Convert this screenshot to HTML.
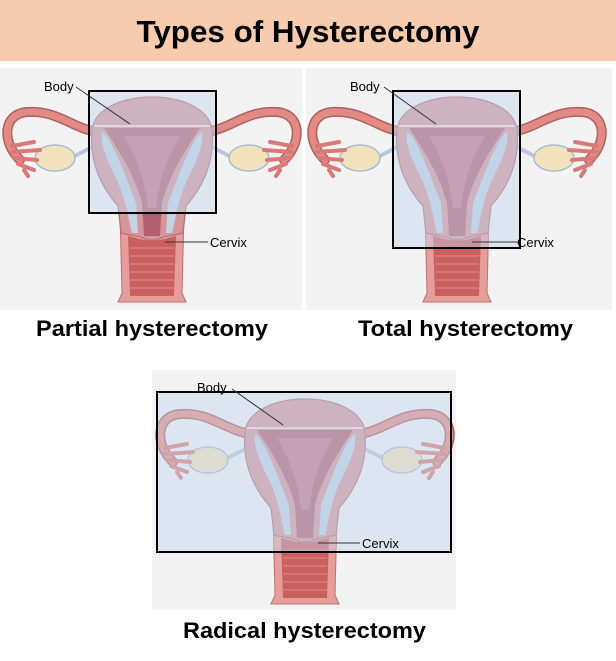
<!DOCTYPE html>
<html><head><meta charset="utf-8"><style>
html,body{margin:0;padding:0;background:#fff;}
svg{display:block;}
text{font-family:"Liberation Sans",sans-serif;}
</style></head><body>
<svg width="616" height="661" viewBox="0 0 616 661" xmlns="http://www.w3.org/2000/svg">
<defs>
<g id="ut">
  <path d="M-55,64 C-80,60 -95,42 -125,44 C-150,46 -150,75 -132,92" fill="none" stroke="#b0605f" stroke-width="10" stroke-linecap="round"/>
  <path d="M-55,64 C-80,60 -95,42 -125,44 C-150,46 -150,75 -132,92" fill="none" stroke="#e38a84" stroke-width="7" stroke-linecap="round"/>
  <path d="M55,64 C80,60 95,42 125,44 C150,46 150,75 132,92" fill="none" stroke="#b0605f" stroke-width="10" stroke-linecap="round"/>
  <path d="M55,64 C80,60 95,42 125,44 C150,46 150,75 132,92" fill="none" stroke="#e38a84" stroke-width="7" stroke-linecap="round"/>
  <path d="M-58,78 L-85,92" stroke="#b8c8dc" stroke-width="4"/>
  <path d="M58,78 L85,92" stroke="#b8c8dc" stroke-width="4"/>
  <ellipse cx="-97" cy="90" rx="20" ry="13" fill="#f2e2bc" stroke="#a9bcd4" stroke-width="1.5"/>
  <ellipse cx="97" cy="90" rx="20" ry="13" fill="#f2e2bc" stroke="#a9bcd4" stroke-width="1.5"/>
  <path d="M-140,78 L-118,74 M-140,84 L-112,82 M-138,90 L-115,92 M-134,96 L-118,102 M-128,102 L-124,108" stroke="#d97a76" stroke-width="4" stroke-linecap="round"/>
  <path d="M140,78 L118,74 M140,84 L112,82 M138,90 L115,92 M134,96 L118,102 M128,102 L124,108" stroke="#d97a76" stroke-width="4" stroke-linecap="round"/>
  <path d="M-32,145 L-30,225 L-34,234 L34,234 L30,225 L32,145Z" fill="#e79e9a" stroke="#c07070" stroke-width="1"/>
  <path d="M-24,168 L-22,228 L22,228 L24,168 L8,172 L-8,172Z" fill="#c9605f"/>
  <g stroke="#e28a86" stroke-width="1">
    <line x1="-22" y1="180" x2="22" y2="180"/><line x1="-22" y1="188" x2="22" y2="188"/>
    <line x1="-22" y1="196" x2="22" y2="196"/><line x1="-22" y1="204" x2="22" y2="204"/>
    <line x1="-22" y1="212" x2="22" y2="212"/><line x1="-22" y1="220" x2="22" y2="220"/>
  </g>
  <path d="M-60,62 C-55,18 55,18 60,62 C63,95 50,120 34,138 L31,165 C20,168 10,168 5,172 L-5,172 C-10,168 -20,168 -31,165 L-34,138 C-50,120 -63,95 -60,62Z" fill="#d6959b" stroke="#b0707a" stroke-width="1.2"/>
  <path d="M-50,64 C-40,70 -30,100 -16,135 L-14,165 L-20,165 C-24,150 -26,130 -36,110 C-46,90 -52,75 -50,64Z" fill="#c2d3e3"/>
  <path d="M50,64 C40,70 30,100 16,135 L14,165 L20,165 C24,150 26,130 36,110 C46,90 52,75 50,64Z" fill="#c2d3e3"/>
  <path d="M-48,60 L48,60 C35,80 18,105 10,135 L8,168 L-8,168 L-10,135 C-18,105 -35,80 -48,60Z" fill="#b2606f"/>
  <path d="M-28,68 L28,68 C18,85 8,105 4,140 L-4,140 C-8,105 -18,85 -28,68Z" fill="#c37582"/>
  <line x1="-58" y1="58" x2="58" y2="58" stroke="#eed6d4" stroke-width="2"/>
</g>
</defs>
<rect x="0" y="0" width="616" height="61" fill="#f7cbad"/>
<text x="308" y="42" font-size="31" font-weight="bold" text-anchor="middle" textLength="343" lengthAdjust="spacingAndGlyphs">Types of Hysterectomy</text>

<rect x="0" y="68" width="302" height="242" fill="#f3f3f3"/>
<use href="#ut" x="152" y="68"/>
<rect x="89" y="91" width="127" height="122" fill="#c4d8ee" fill-opacity="0.45" stroke="#000" stroke-width="2"/>
<text x="44" y="91" font-size="13">Body</text>
<line x1="76" y1="87" x2="130" y2="124" stroke="#333" stroke-width="1"/>
<text x="210" y="247" font-size="13">Cervix</text>
<line x1="165" y1="242" x2="208" y2="242" stroke="#333" stroke-width="1"/>
<text x="36" y="336" font-size="22" font-weight="bold" textLength="232" lengthAdjust="spacingAndGlyphs">Partial hysterectomy</text>

<rect x="306" y="68" width="306" height="242" fill="#f3f3f3"/>
<use href="#ut" x="457" y="68"/>
<rect x="393" y="91" width="127" height="157" fill="#c4d8ee" fill-opacity="0.45" stroke="#000" stroke-width="2"/>
<text x="350" y="91" font-size="13">Body</text>
<line x1="384" y1="87" x2="436" y2="124" stroke="#333" stroke-width="1"/>
<text x="517" y="247" font-size="13">Cervix</text>
<line x1="472" y1="242" x2="518" y2="242" stroke="#333" stroke-width="1"/>
<text x="358" y="336" font-size="22" font-weight="bold" textLength="215" lengthAdjust="spacingAndGlyphs">Total hysterectomy</text>

<rect x="152" y="370" width="304" height="240" fill="#f3f3f3"/>
<use href="#ut" x="305" y="370"/>
<rect x="157" y="392" width="294" height="160" fill="#c4d8ee" fill-opacity="0.45" stroke="#000" stroke-width="2"/>
<text x="197" y="392" font-size="13">Body</text>
<line x1="232" y1="389" x2="283" y2="425" stroke="#333" stroke-width="1"/>
<text x="362" y="548" font-size="13">Cervix</text>
<line x1="318" y1="543" x2="360" y2="543" stroke="#333" stroke-width="1"/>
<text x="183" y="638" font-size="22" font-weight="bold" textLength="243" lengthAdjust="spacingAndGlyphs">Radical hysterectomy</text>
</svg>
</body></html>
